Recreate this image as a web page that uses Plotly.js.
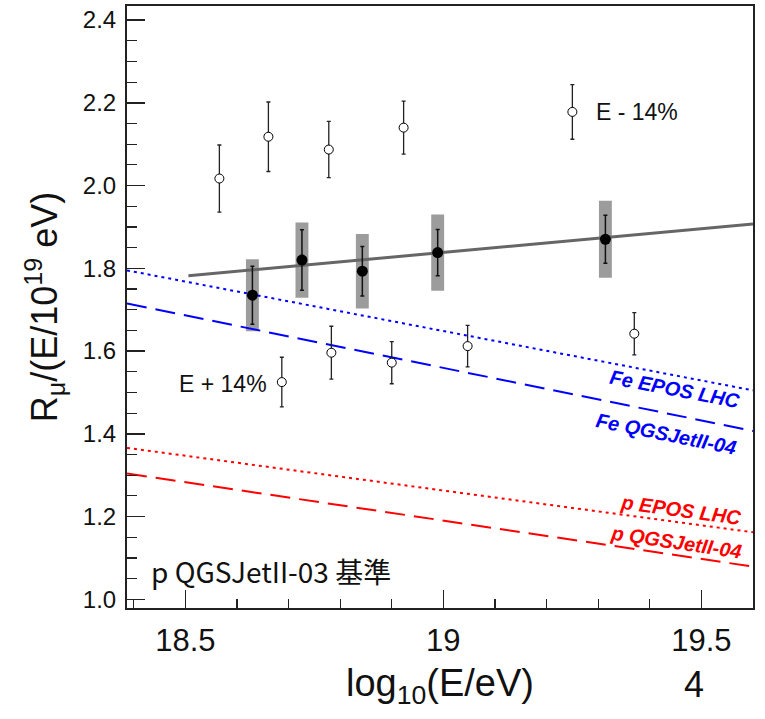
<!DOCTYPE html>
<html>
<head>
<meta charset="utf-8">
<script src="https://cdn.plot.ly/plotly-3.0.1.min.js"></script>
<style>html,body{margin:0;padding:0;background:#fff;}#chart{width:765px;height:719px;}</style>
</head>
<body>
<div id="chart"></div>
<script>
// Measured points (filled) with statistical and systematic uncertainties
const energy = [18.630, 18.726, 18.843, 18.989, 19.314];
const rmu = [1.735, 1.820, 1.793, 1.838, 1.870];
const statErr = [0.070, 0.073, 0.060, 0.056, 0.058];
const sysErr = [0.087, 0.091, 0.090, 0.092, 0.093];

// Energy scale shifted by -14%
const energyMinus = [18.566, 18.661, 18.778, 18.923, 19.250];
const rmuMinus = [2.017, 2.118, 2.087, 2.140, 2.178];
const errMinus = [0.081, 0.084, 0.068, 0.064, 0.066];

// Energy scale shifted by +14%
const energyPlus = [18.687, 18.783, 18.900, 19.047, 19.370];
const rmuPlus = [1.525, 1.596, 1.572, 1.612, 1.642];
const errPlus = [0.060, 0.064, 0.051, 0.050, 0.051];

// Fit line
const fitX = [18.506, 19.6];
const fitY = [1.782, 1.907];

// Model predictions
const modelX = [18.387, 19.6];
const feEpos = [1.795, 1.505];
const feQgs = [1.715, 1.407];
const pEpos = [1.366, 1.162];
const pQgs = [1.304, 1.079];

const modelNames = ["Fe EPOS LHC", "Fe QGSJetII-04", "p EPOS LHC", "p QGSJetII-04"];
const labelX = [19.448, 19.432, 19.461, 19.450];
const labelY = [1.508, 1.399, 1.215, 1.139];
const labelColors = ["#0000ff", "#0000ff", "#ff0000", "#ff0000"];

const xTickVals = [18.5, 19, 19.5];
const xTickText = ["18.5", "19", "19.5"];

const sysBase = rmu.map((v, i) => v - sysErr[i]);
const sysHeight = sysErr.map(s => 2 * s);

const FONT = "Arial, 'Liberation Sans', Helvetica, sans-serif";

const traces = [
  { type: "bar", x: energy, y: sysHeight, base: sysBase, width: 0.025,
    marker: { color: "#9c9c9c", line: { width: 0 } }, showlegend: false, hoverinfo: "skip" },
  { type: "scatter", mode: "lines", x: modelX, y: feEpos, line: { color: "#0000ff", width: 2, dash: "3px,4px" }, showlegend: false },
  { type: "scatter", mode: "lines", x: modelX, y: feQgs, line: { color: "#0000ff", width: 2, dash: "20px,9px" }, showlegend: false },
  { type: "scatter", mode: "lines", x: modelX, y: pEpos, line: { color: "#ff0000", width: 2, dash: "3px,4px" }, showlegend: false },
  { type: "scatter", mode: "lines", x: modelX, y: pQgs, line: { color: "#ff0000", width: 2, dash: "20px,9px" }, showlegend: false },
  { type: "scatter", mode: "lines", x: fitX, y: fitY, line: { color: "#666666", width: 3 }, showlegend: false },
  { type: "scatter", mode: "markers", x: energy, y: rmu,
    error_y: { type: "data", array: statErr, visible: true, color: "#111", thickness: 1.5, width: 2 },
    marker: { color: "#000", size: 11 }, showlegend: false },
  { type: "scatter", mode: "markers", x: energyMinus, y: rmuMinus,
    error_y: { type: "data", array: errMinus, visible: true, color: "#222", thickness: 1.3, width: 2 },
    marker: { color: "#fff", size: 9, line: { color: "#000", width: 1 } }, showlegend: false },
  { type: "scatter", mode: "markers", x: energyPlus, y: rmuPlus,
    error_y: { type: "data", array: errPlus, visible: true, color: "#222", thickness: 1.3, width: 2 },
    marker: { color: "#fff", size: 9, line: { color: "#000", width: 1 } }, showlegend: false }
];

const angles = [10.8, 11.4, 7.7, 8.4];
const annotations = modelNames.map((n, i) => ({
  x: labelX[i], y: labelY[i], xref: "x", yref: "y", text: "<b><i>" + n + "</i></b>",
  showarrow: false, textangle: angles[i], xanchor: "center", yanchor: "middle",
  font: { family: FONT, size: 20, color: labelColors[i] }
}));
annotations.push(
  { x: 19.291, y: 2.177, xref: "x", yref: "y", text: "E - 14%", showarrow: false, xanchor: "left", yanchor: "middle",
    font: { family: FONT, size: 23, color: "#111" } },
  { x: 18.662, y: 1.5215, xref: "x", yref: "y", text: "E + 14%", showarrow: false, xanchor: "right", yanchor: "middle",
    font: { family: FONT, size: 23, color: "#111" } },
  { x: 18.430, y: 1.068, xref: "x", yref: "y", text: "p QGSJetII-03 基準", showarrow: false, xanchor: "left", yanchor: "middle",
    font: { family: "'Noto Sans CJK JP', 'Noto Sans', sans-serif", size: 28, color: "#111" } },
  { x: (694 - 127) / (765 - 127 - 12), y: (719 - 111 - 684) / (719 - 6 - 111), xref: "paper", yref: "paper",
    text: "4", showarrow: false, xanchor: "center", yanchor: "middle",
    font: { family: FONT, size: 36, color: "#111" } }
);

const layout = {
  width: 765, height: 719,
  margin: { l: 127, r: 12, t: 6, b: 111 },
  paper_bgcolor: "#ffffff", plot_bgcolor: "#ffffff",
  barmode: "overlay",
  showlegend: false,
  xaxis: {
    range: [18.387, 19.6], tickvals: xTickVals, ticktext: xTickText,
    ticks: "inside", ticklen: 18, tickwidth: 1.5, tickcolor: "#222",
    minor: { dtick: 0.1, tick0: 18.4, ticks: "inside", ticklen: 9, tickwidth: 1.2, tickcolor: "#222" },
    showline: true, linecolor: "#222", linewidth: 2, mirror: true,
    showgrid: false, zeroline: false,
    tickfont: { family: FONT, size: 31, color: "#111" },
    ticklabelstandoff: 4,
    title: { text: "log<sub>10</sub>(E/eV)", font: { family: FONT, size: 38, color: "#111" }, standoff: 12 }
  },
  yaxis: {
    range: [0.979, 2.434], tick0: 1.0, dtick: 0.2, tickformat: ".1f",
    ticks: "inside", ticklen: 18, tickwidth: 1.5, tickcolor: "#222",
    minor: { dtick: 0.05, ticks: "inside", ticklen: 10, tickwidth: 1.2, tickcolor: "#222" },
    showline: true, linecolor: "#222", linewidth: 2, mirror: true,
    showgrid: false, zeroline: false,
    tickfont: { family: FONT, size: 24, color: "#111" },
    ticklabelstandoff: 4,
    title: { text: "R<sub>μ</sub>/(E/10<sup>19</sup> eV)", font: { family: FONT, size: 36, color: "#111" }, standoff: 14 }
  },
  annotations: annotations
};

Plotly.newPlot("chart", traces, layout, { displayModeBar: false, staticPlot: true });
</script>
</body>
</html>
